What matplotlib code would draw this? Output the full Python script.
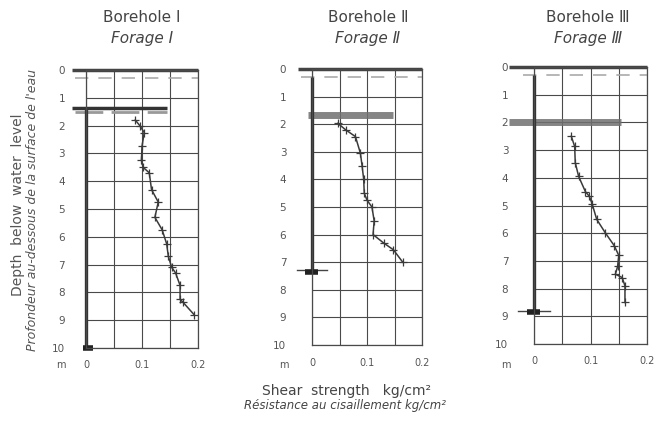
import matplotlib.pyplot as plt

# boreholes
titles_en = ["Borehole I", "Borehole \u2161", "Borehole \u2162"]
titles_fr = ["Forage I", "Forage \u2161", "Forage \u2162"]

# shear strength profiles (depth m, strength kg/cm2)
depth_1 = [1.8, 2.0, 2.25, 2.75, 3.25, 3.5, 3.7, 4.3, 4.75, 5.3, 5.75, 6.25, 6.7, 7.1, 7.3, 7.75, 8.25, 8.35, 8.8]
shear_1 = [0.088, 0.096, 0.104, 0.100, 0.099, 0.102, 0.113, 0.117, 0.129, 0.123, 0.136, 0.144, 0.147, 0.153, 0.160, 0.168, 0.168, 0.173, 0.193]

depth_2 = [1.97, 2.2, 2.45, 3.05, 3.5, 4.0, 4.5, 4.75, 5.0, 5.5, 6.0, 6.3, 6.55, 7.0]
shear_2 = [0.047, 0.061, 0.079, 0.088, 0.091, 0.094, 0.095, 0.100, 0.109, 0.113, 0.111, 0.130, 0.148, 0.165]

depth_3 = [2.5, 2.87, 3.45, 3.95, 4.5, 4.67, 4.95, 5.5, 5.98, 6.45, 6.8, 7.2, 7.48, 7.6, 7.9, 8.5]
shear_3 = [0.066, 0.072, 0.073, 0.079, 0.091, 0.098, 0.103, 0.111, 0.126, 0.142, 0.150, 0.148, 0.144, 0.156, 0.161, 0.161]

depths = [depth_1, depth_2, depth_3]
shears = [shear_1, shear_2, shear_3]

# soil markers per borehole
water_line = [0.3, 0.3, 0.3]
band_depth = [1.35, 1.65, 2.0]
band_end = [0.145, 0.148, 0.154]
casing_top = [1.35, 0.3, 0.3]
casing_bottom = [10.0, 7.3, 8.8]

depth_ticks = list(range(0, 11))
strength_ticks = [0, 0.1, 0.2]
strength_labels = ["0", "0.1", "0.2"]

W, H = 656, 424
fig = plt.figure(figsize=(W / 100, H / 100), dpi=100)
fig.patch.set_facecolor("white")

# axes boxes in pixels: left, right, top, bottom
boxes = [(86, 198, 70, 348), (312, 422, 69, 345), (534, 647, 67, 344)]
title_x = [142, 368, 588]
label_pad = [15, 18.5, 18.5]
unit_x = [61, 284, 506]

ink = "#3a3a3a"
txt = "#555555"

for i, (l, r, t, b) in enumerate(boxes):
    ax = fig.add_axes([l / W, 1 - b / H, (r - l) / W, (b - t) / H])
    ax.set_xlim(0, 0.2)
    ax.set_ylim(10, 0)
    ax.set_xticks(strength_ticks)
    ax.set_xticklabels(strength_labels, fontsize=7, color=txt)
    ax.set_xticks([0.05, 0.15], minor=True)
    ax.set_yticks(depth_ticks)
    ax.set_yticklabels([str(d) for d in depth_ticks], fontsize=7.5, color=txt)
    ax.tick_params(which="both", length=0)
    ax.tick_params(axis="x", pad=9)
    ax.tick_params(axis="y", pad=label_pad[i])
    ax.grid(True, which="both", color="#4a4a4a", lw=0.8)
    for s in ax.spines.values():
        s.set_color("#4a4a4a")
        s.set_linewidth(0.9)

    # top of water surface
    ax.plot([-0.025 if i < 2 else -0.045, 0.2], [0, 0], color="#444444", lw=2.5, clip_on=False, solid_capstyle="butt")
    ax.plot([-0.02, 0.2], [water_line[i], water_line[i]], color="#aaaaaa", lw=1.2, ls=(0, (8, 6)), clip_on=False)

    # soft layer band
    if i == 0:
        ax.plot([-0.025, band_end[i]], [band_depth[i], band_depth[i]], color="#333333", lw=2.5, clip_on=False, solid_capstyle="butt")
        ax.plot([-0.02, band_end[i]], [band_depth[i] + 0.15, band_depth[i] + 0.15], color="#999999", lw=2, ls=(0, (10, 3)), clip_on=False)
    else:
        ax.plot([-0.045 if i == 2 else -0.008, band_end[i]], [band_depth[i], band_depth[i]], color="#707070", lw=5, alpha=0.85, clip_on=False, solid_capstyle="butt")

    # casing / borehole line
    ax.plot([0, 0], [casing_top[i], casing_bottom[i]], color="#333333", lw=2.4, clip_on=False, solid_capstyle="butt")

    # bottom of borehole marker
    cb = casing_bottom[i]
    if i == 0:
        ax.plot([-0.006, 0.012], [cb, cb], color="#222222", lw=4, clip_on=False, solid_capstyle="butt")
    else:
        ax.plot([-0.028, 0.028], [cb, cb], color="#444444", lw=1, clip_on=False)
        ax.plot([-0.013, 0.01], [cb + 0.05, cb + 0.05], color="#222222", lw=4, clip_on=False, solid_capstyle="butt")

    # shear strength profile
    ax.plot(shears[i], depths[i], color="#3a3a3a", lw=1.1, marker="+", ms=6, mew=0.9, clip_on=False)

    # unit "m" below depth labels
    fig.text(unit_x[i] / W, 1 - 365 / H, "m", fontsize=7, color=txt, ha="center", va="center")

    fig.text(title_x[i] / W, 1 - 18 / H, titles_en[i], fontsize=11, color="#444444", ha="center", va="center")
    fig.text(title_x[i] / W, 1 - 38 / H, titles_fr[i], fontsize=11, style="italic", color="#444444", ha="center", va="center")

fig.text(18 / W, 1 - 205 / H, "Depth  below  water  level", fontsize=10, color=txt, rotation=90, ha="center", va="center")
fig.text(33 / W, 1 - 210 / H, "Profondeur au-dessous de la surface de l'eau", fontsize=9, style="italic", color=txt, rotation=90, ha="center", va="center")

fig.text(346 / W, 1 - 391 / H, "Shear  strength   kg/cm\u00b2", fontsize=10, color="#444444", ha="center", va="center")
fig.text(345 / W, 1 - 406 / H, "R\u00e9sistance au cisaillement kg/cm\u00b2", fontsize=8.5, style="italic", color="#444444", ha="center", va="center")

fig.savefig("out.png", dpi=100, facecolor="white")
